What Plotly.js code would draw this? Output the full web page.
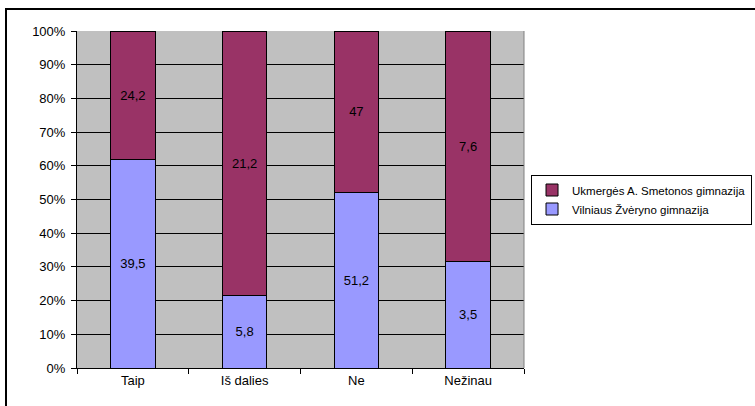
<!DOCTYPE html>
<html>
<head>
<meta charset="utf-8">
<script src="https://cdn.plot.ly/plotly-3.0.1.min.js"></script>
<style>
  html, body { margin: 0; padding: 0; background: #fff; overflow: hidden; }
  #wrap { position: relative; width: 755px; height: 406px; }
  #chart { width: 755px; height: 406px; }
  #frame { position: absolute; left: 5px; top: 8px; width: 900px; height: 600px;
           border-left: 2px solid #000; border-top: 2px solid #000; pointer-events: none;
           box-sizing: border-box; z-index: 10; }
  #topline { position: absolute; left: 5px; top: 8px; width: 760px; height: 2px;
             background: #000; z-index: 11; }
</style>
</head>
<body>
<div id="wrap">
  <div id="chart"></div>
  <div id="frame"></div>
  <div id="topline"></div>
</div>
<script>
const categories = ["Taip", "Iš dalies", "Ne", "Nežinau"];
const vilniausName = "Vilniaus Žvėryno gimnazija";
const ukmergesName = "Ukmergės A. Smetonos gimnazija";
const vilniausValues = [39.5, 5.8, 51.2, 3.5];
const ukmergesValues = [24.2, 21.2, 47, 7.6];

const fmt = v => String(v).replace('.', ',');
const FONT = "Liberation Sans, Arial, sans-serif";

const common = {
  type: 'bar',
  x: categories,
  textposition: 'inside',
  insidetextanchor: 'middle',
  textangle: 0,
  constraintext: 'none',
  textfont: { family: FONT, size: 13, color: '#000' },
  hoverinfo: 'skip'
};

const traces = [
  Object.assign({}, common, {
    name: vilniausName,
    y: vilniausValues,
    text: vilniausValues.map(fmt),
    marker: { color: '#9999FF', line: { color: '#000', width: 1 } }
  }),
  Object.assign({}, common, {
    name: ukmergesName,
    y: ukmergesValues,
    text: ukmergesValues.map(fmt),
    marker: { color: '#993366', line: { color: '#000', width: 1 } }
  })
];

const layout = {
  width: 755,
  height: 406,
  margin: { l: 77, r: 231, t: 31, b: 38, pad: 0, autoexpand: false },
  paper_bgcolor: '#fff',
  plot_bgcolor: '#C0C0C0',
  font: { family: FONT, size: 13, color: '#000' },
  barmode: 'stack',
  barnorm: 'percent',
  bargap: 0.6,
  hovermode: false,
  showlegend: true,
  legend: {
    x: 1.0157, xanchor: 'left',
    y: 0.5, yanchor: 'middle',
    traceorder: 'reversed',
    bordercolor: '#000', borderwidth: 1,
    bgcolor: '#fff',
    font: { family: FONT, size: 11.5, color: '#000' },
    itemwidth: 30
  },
  xaxis: {
    type: 'category',
    showgrid: false,
    showline: true, linecolor: '#000', linewidth: 1,
    ticks: 'outside', tickson: 'boundaries', ticklen: 5, tickcolor: '#000',
    tickfont: { family: FONT, size: 13, color: '#000' },
    zeroline: false
  },
  yaxis: {
    range: [0, 100],
    dtick: 10, tick0: 0,
    ticksuffix: '%',
    showgrid: true, gridcolor: '#000', gridwidth: 1,
    showline: true, linecolor: '#000', linewidth: 1,
    ticks: 'outside', ticklen: 5, tickcolor: '#000',
    ticklabelstandoff: 3,
    tickfont: { family: FONT, size: 13, color: '#000' },
    zeroline: false
  },
  shapes: [
    { type: 'line', xref: 'paper', yref: 'paper', x0: 1, x1: 1, y0: 0, y1: 1,
      line: { color: '#808080', width: 1 } }
  ]
};

Plotly.newPlot('chart', traces, layout, { staticPlot: true, displayModeBar: false });
</script>
</body>
</html>
